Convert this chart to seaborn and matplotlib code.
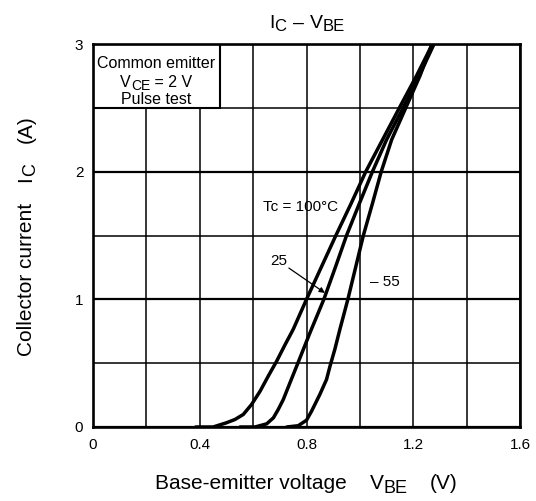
import numpy as np
import pandas as pd
import matplotlib
matplotlib.use("Agg")
import matplotlib.pyplot as plt
import seaborn as sns
from matplotlib.patches import Rectangle
from matplotlib.ticker import MultipleLocator
from matplotlib.transforms import IdentityTransform

# ---- data ----
vbe_100 = [0.385, 0.45, 0.50, 0.532, 0.563, 0.594, 0.626, 0.657, 0.688, 0.72,
           0.75, 0.80, 0.855, 0.91, 0.967, 1.022, 1.085, 1.148, 1.212, 1.272]
ic_100 = [0.0, 0.0, 0.033, 0.059, 0.098, 0.176, 0.28, 0.40, 0.515, 0.646,
          0.764, 1.0, 1.25, 1.5, 1.75, 2.0, 2.25, 2.5, 2.75, 3.0]

vbe_25 = [0.551, 0.607, 0.651, 0.676, 0.694, 0.713, 0.738, 0.763, 0.788, 0.813,
          0.865, 0.908, 0.95, 0.998, 1.047, 1.10, 1.162, 1.222, 1.278]
ic_25 = [0.0, 0.0, 0.025, 0.072, 0.137, 0.215, 0.346, 0.476, 0.607, 0.738,
         1.0, 1.25, 1.5, 1.75, 2.0, 2.25, 2.5, 2.75, 3.0]

vbe_m55 = [0.726, 0.769, 0.80, 0.819, 0.85, 0.875, 0.888, 0.906, 0.925, 0.955,
           0.984, 1.013, 1.047, 1.08, 1.119, 1.172, 1.225, 1.27]
ic_m55 = [0.0, 0.01, 0.053, 0.124, 0.255, 0.372, 0.476, 0.607, 0.764, 1.0,
          1.25, 1.5, 1.75, 2.0, 2.25, 2.5, 2.75, 3.0]

series_names = ["100", "25", "-55"]
x_ticks = [0, 0.4, 0.8, 1.2, 1.6]
x_tick_labels = ["0", "0.4", "0.8", "1.2", "1.6"]
y_ticks = [0, 1, 2, 3]
y_tick_labels = ["0", "1", "2", "3"]

df = pd.concat([
    pd.DataFrame({"VBE": vbe_100, "IC": ic_100, "Tc": series_names[0]}),
    pd.DataFrame({"VBE": vbe_25, "IC": ic_25, "Tc": series_names[1]}),
    pd.DataFrame({"VBE": vbe_m55, "IC": ic_m55, "Tc": series_names[2]}),
], ignore_index=True)

# ---- style ----
sns.set_theme(style="white")
plt.rcParams['font.family'] = ['Liberation Sans', 'DejaVu Sans']

W, H = 536, 501
fig = plt.figure(figsize=(W / 100, H / 100), dpi=100)
ax = fig.add_axes([93 / W, 1 - 427 / H, 427 / W, 383 / H])


def seg_text(x, y, segs, rotation=0, color='black'):
    """Draw a run of text pieces (for real-size subscripts), centred on x (or y
    when rotated).  segs: (text, fontsize, drop_px) or (None, gap_px)."""
    r = fig.canvas.get_renderer()
    items = []
    for seg in segs:
        if seg[0] is None:
            items.append((None, seg[1], 0))
            continue
        s, fs, drop = seg
        t = fig.text(0, 0, s, fontsize=fs, rotation=rotation,
                     rotation_mode='anchor', ha='left', va='baseline',
                     transform=IdentityTransform(), color=color, zorder=7)
        bb = t.get_window_extent(r)
        items.append((t, bb.width if rotation == 0 else bb.height, drop))
    total = sum(L for _, L, _ in items)
    pos = (x if rotation == 0 else y) - total / 2
    for t, L, drop in items:
        if t is not None:
            if rotation == 0:
                t.set_position((pos, y - drop))
            else:
                t.set_position((x + drop, pos))
        pos += L


sns.lineplot(data=df, x="VBE", y="IC", hue="Tc", palette=["black"] * 3,
             estimator=None, sort=False, linewidth=2.5, legend=False, ax=ax,
             zorder=4)

ax.set_xlim(0, 1.6)
ax.set_ylim(0, 3)
ax.set_xticks(x_ticks)
ax.set_xticklabels(x_tick_labels)
ax.set_yticks(y_ticks)
ax.set_yticklabels(y_tick_labels)
ax.xaxis.set_minor_locator(MultipleLocator(0.2))
ax.yaxis.set_minor_locator(MultipleLocator(0.5))
ax.set_axisbelow(True)
ax.grid(which='both', axis='x', color='black', linewidth=1.1)
ax.grid(which='major', axis='y', color='black', linewidth=1.6)
ax.grid(which='minor', axis='y', color='black', linewidth=1.1)
ax.tick_params(which='both', length=0, colors='black', labelsize=11)
ax.tick_params(axis='x', pad=8)
ax.tick_params(axis='y', pad=7)
ax.set_xlabel("")
ax.set_ylabel("")
for s in ax.spines.values():
    s.set_color('black')
    s.set_linewidth(1.9)
    s.set_zorder(5)

# condition box
ax.add_patch(Rectangle((0, 2.5), 0.475, 0.5, facecolor='white',
                       edgecolor='black', linewidth=1.5, zorder=3))
bx, _ = ax.transData.transform((0.2375, 2.5))
seg_text(bx, H - 68, [("Common emitter", 11.5, 0)])
seg_text(bx, H - 87, [("V", 11.5, 0), ("CE", 10, 2.5), (" = 2 V", 11.5, 0)])
seg_text(bx, H - 104.5, [("Pulse test", 11.5, 0)])

# curve annotations
ax.text(0.637, 1.723, "Tc = 100°C", ha='left', va='center', fontsize=11,
        color='black', zorder=6)
ax.text(0.697, 1.30, "25", ha='center', va='center', fontsize=11,
        color='black', zorder=6)
ax.annotate("", xy=(0.869, 1.05), xytext=(0.734, 1.245),
            arrowprops=dict(arrowstyle='-|>', color='black', lw=0.9,
                            mutation_scale=8, shrinkA=0, shrinkB=0), zorder=6)
ax.text(1.094, 1.136, "– 55", ha='center', va='center', fontsize=11,
        color='black', zorder=6)

# title and axis labels (real-size subscripts)
seg_text(307, H - 27.5, [("I", 14, 0), ("C", 12, 3.5), (None, 6),
                         ("–", 14, 0), (None, 6),
                         ("V", 14, 0), ("BE", 12, 3.5)])
seg_text(306, H - 489, [("Base-emitter voltage", 15, 0), (None, 23),
                        ("V", 15, 0), ("BE", 13, 4), (None, 22),
                        ("(V)", 15, 0)])
seg_text(31.5, H - 235.5, [("Collector current", 15, 0), (None, 21),
                           ("I", 15, 0), ("C", 13, 4), (None, 20),
                           ("(A)", 15, 0)], rotation=90)

fig.savefig("out.png", dpi=100, facecolor='white')
